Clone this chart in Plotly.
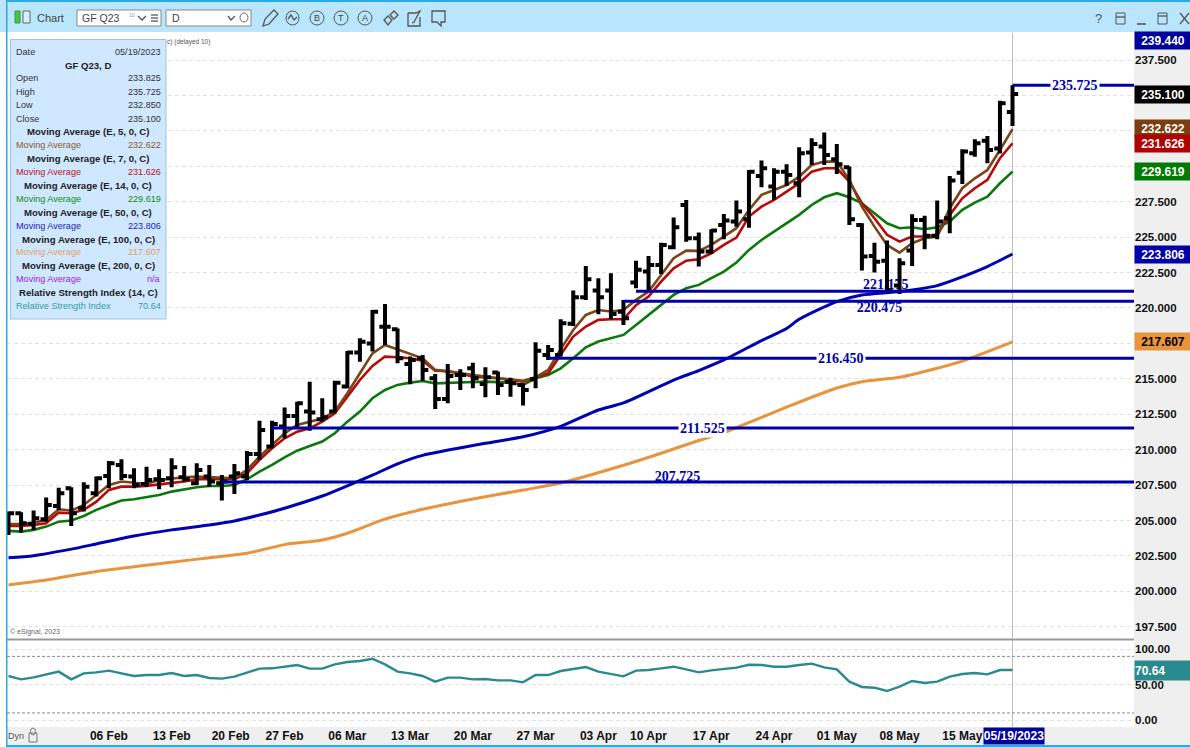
import plotly.graph_objects as go

# ---------- data ----------
bar_index = list(range(81))
open_px = [205.0,205.51,204.76,205.09,206.03,207.28,205.87,206.92,208.15,208.92,208.10,207.58,207.91,207.98,208.05,207.63,208.10,207.63,208.10,208.10,209.70,210.22,211.63,212.38,212.69,212.14,212.69,214.45,216.85,217.50,218.68,218.49,216.05,216.45,215.04,213.58,215.27,215.74,214.64,215.44,214.80,214.57,214.97,216.68,216.68,218.88,220.76,221.23,221.23,219.74,221.79,222.57,223.04,224.28,227.27,224.92,223.98,225.86,226.10,226.26,229.32,228.57,229.62,228.80,230.97,231.39,230.49,229.93,225.86,223.67,223.34,221.58,224.05,226.21,225.09,226.33,229.55,230.92,231.81,231.26,233.825]
high_px = [205.63,205.58,205.70,206.62,207.32,207.35,207.70,208.10,209.20,209.32,208.69,208.80,208.62,209.39,208.85,209.04,208.92,208.22,208.99,209.91,212.05,212.05,212.97,213.39,214.80,213.63,214.87,216.97,217.86,219.86,220.28,218.56,216.57,216.68,215.34,216.05,215.67,216.14,215.81,215.51,215.08,214.68,217.58,217.39,219.20,221.23,222.97,222.10,222.45,220.57,223.34,223.67,224.61,226.38,227.62,225.32,225.55,226.64,227.58,229.74,230.40,229.86,230.14,231.34,231.98,232.38,231.58,229.98,225.98,224.61,224.76,223.51,226.61,226.50,227.58,229.32,231.20,231.91,232.14,234.63,235.725]
low_px = [203.98,204.15,204.34,204.92,205.75,204.62,205.63,206.69,207.28,207.86,207.28,207.39,207.21,207.35,207.75,207.51,207.39,206.41,206.88,207.86,209.28,210.10,210.80,211.51,211.34,211.98,212.57,214.33,216.21,216.92,217.39,216.10,214.61,214.87,212.87,213.27,214.21,214.33,213.70,213.86,213.74,213.11,214.33,216.33,216.57,218.73,220.57,219.56,219.20,218.80,221.39,221.16,222.40,224.14,224.68,222.92,223.81,224.85,225.74,225.67,228.52,227.63,228.61,227.81,230.09,230.09,229.46,225.86,222.64,222.50,221.16,220.99,222.97,224.14,224.85,225.27,228.75,230.68,230.21,230.91,232.85]
close_px = [205.51,204.81,205.16,206.10,206.92,205.51,207.39,207.98,209.04,208.15,207.51,207.86,207.86,208.76,207.91,208.57,207.75,207.75,208.33,209.70,211.39,211.82,212.38,213.27,212.62,212.29,214.73,216.85,217.62,219.74,218.68,216.45,216.33,215.63,213.58,215.20,215.27,215.04,215.11,214.57,214.68,214.21,216.99,217.04,218.92,220.76,222.03,220.76,219.58,219.27,222.69,223.04,224.45,225.70,224.92,223.98,225.46,226.17,226.80,229.62,229.86,229.62,229.39,230.92,231.58,230.80,230.14,226.26,223.63,223.27,221.23,223.16,226.21,225.09,226.10,228.99,231.04,231.62,231.15,234.44,235.10]

ema5 = [204.76,204.76,204.85,205.04,205.79,205.70,206.10,206.80,207.51,207.75,207.68,207.58,207.86,207.98,208.05,208.10,208.05,207.98,207.98,208.57,209.51,210.33,211.15,211.74,211.98,212.20,212.69,213.98,215.39,216.80,217.39,217.08,216.80,216.45,215.63,215.51,215.39,215.23,215.15,215.04,214.97,214.87,215.11,215.63,217.10,218.45,219.51,219.86,219.75,219.86,220.57,221.16,222.33,223.51,224.05,224.03,224.45,225.04,225.63,226.92,227.98,228.33,228.68,229.27,230.09,230.33,230.33,229.04,227.15,225.74,224.45,223.91,224.57,224.92,225.04,227.04,228.45,229.15,229.74,231.15,232.622]
ema7 = [204.62,204.62,204.69,204.81,205.56,205.51,205.75,206.33,207.16,207.39,207.39,207.44,207.55,207.63,207.75,207.91,207.90,207.91,207.91,208.33,209.28,210.10,210.80,211.27,211.51,211.98,212.57,213.74,214.92,215.91,216.57,216.52,216.45,216.28,215.58,215.55,215.39,215.15,215.11,215.04,214.92,214.80,215.11,215.39,216.70,217.98,218.69,219.16,219.20,219.20,220.20,220.80,221.86,222.80,223.34,223.44,223.86,224.45,224.97,226.45,227.15,227.62,228.21,228.80,229.62,229.86,229.86,228.92,227.39,226.33,225.16,224.68,225.04,225.04,225.16,226.57,227.74,228.45,229.04,230.57,231.626]
ema14 = [204.27,204.22,204.34,204.57,204.92,205.00,205.32,205.75,206.10,206.41,206.50,206.64,206.80,207.04,207.21,207.35,207.44,207.44,207.51,207.91,208.45,208.92,209.46,209.93,210.26,210.57,211.16,211.98,212.69,213.63,214.21,214.57,214.73,214.85,214.68,214.73,214.75,214.78,214.80,214.75,214.73,214.57,215.04,215.27,215.74,216.45,217.23,217.63,217.86,218.10,218.80,219.51,220.20,220.92,221.39,221.63,222.10,222.57,223.20,224.10,224.80,225.39,225.93,226.57,227.27,227.81,228.10,227.81,227.39,226.68,225.98,225.63,225.70,225.56,225.70,226.10,226.92,227.44,227.86,228.80,229.619]
ema50_index = [0,2,5,7,10,13,16,18,20,22,25,27,29,31,33,38,41,44,47,49,53,55,57,60,62,63,66,68,71,74,76,78,80]
ema50 = [202.38,202.52,202.98,203.35,203.91,204.34,204.69,204.97,205.39,205.87,206.73,207.45,208.20,209.00,209.60,210.45,210.91,211.65,212.80,213.30,214.91,215.58,216.33,217.70,218.55,219.20,220.45,220.92,221.16,221.58,222.20,222.92,223.806]
ema100_index = [0,3,7,13,16,19,22,25,27,30,33,37,41,44,49,52,55,57,58,62,66,68,71,74,76,80]
ema100 = [200.45,200.80,201.40,202.05,202.38,202.69,203.30,203.63,204.10,205.10,205.79,206.52,207.15,207.65,208.90,209.75,210.65,211.20,211.55,213.00,214.35,214.80,215.11,215.75,216.25,217.607]
rsi14 = [62.2,57.5,60.3,64.6,68.4,57.5,66.0,67.4,69.8,66.0,62.2,63.6,63.6,66.5,62.2,63.6,59.4,58.5,61.3,66.9,72.6,73.1,75.4,77.8,72.6,72.6,78.7,82.0,83.4,86.7,78.7,68.4,66.0,62.2,54.2,59.9,59.9,57.5,58.0,56.1,56.1,53.3,63.6,63.6,69.3,72.6,74.9,68.4,64.6,61.8,69.8,70.7,73.1,75.4,71.7,67.4,70.2,71.7,74.0,78.2,77.8,75.4,75.4,77.8,79.7,74.5,71.7,54.2,46.7,45.7,41.0,47.1,55.2,52.3,54.2,61.3,65.1,66.5,64.6,70.7,70.64]

level_values = [235.725,221.175,220.475,216.450,211.525,207.725]
level_start = [80,50,49,43,21,17]
level_label = ["235.725","221.175","220.475","216.450","211.525","207.725"]
level_label_index = [85.0,69.9,69.4,66.3,55.3,53.3]
level_label_price = [235.725,221.62,219.93,216.45,211.525,208.07]
level_label_boxed = [True,False,False,True,True,False]

tick_index = [8,13,17.7,22,27,32,37,42,47,51,56,61,66,71,76]
tick_label = ["06 Feb","13 Feb","20 Feb","27 Feb","06 Mar","13 Mar","20 Mar","27 Mar","03 Apr","10 Apr","17 Apr","24 Apr","01 May","08 May","15 May"]
price_ticks = [197.5+2.5*k for k in range(17)]
covered_price_ticks = [217.5,230.0,232.5,235.0]
rsi_ticks = [0,50,100]

badge_value = [239.44,235.10,232.622,231.626,229.619,223.806,217.607]
badge_fill = ["#00009C","#000000","#7A3E10","#B00000","#007A00","#0000AA","#E8943C"]
badge_font = ["white","white","white","white","white","white","black"]
badge_shift = [-8,0,1,0,0,0,0]

info_rows = [
    ("Date","05/19/2023","#333333",False),("GF Q23, D",None,"#222222",True),
    ("Open","233.825","#333333",False),("High","235.725","#333333",False),
    ("Low","232.850","#333333",False),("Close","235.100","#333333",False),
    ("Moving Average (E, 5, 0, C)",None,"#222222",True),("Moving Average","232.622","#8A5A30",False),
    ("Moving Average (E, 7, 0, C)",None,"#222222",True),("Moving Average","231.626","#C01020",False),
    ("Moving Average (E, 14, 0, C)",None,"#222222",True),("Moving Average","229.619","#108A10",False),
    ("Moving Average (E, 50, 0, C)",None,"#222222",True),("Moving Average","223.806","#2020C8",False),
    ("Moving Average (E, 100, 0, C)",None,"#222222",True),("Moving Average","217.607","#E8A060",False),
    ("Moving Average (E, 200, 0, C)",None,"#222222",True),("Moving Average","n/a","#A020E0",False),
    ("Relative Strength Index (14, C)",None,"#222222",True),("Relative Strength Index","70.64","#3A9AA0",False),
]

# ---------- helpers (window pixels to paper fractions) ----------
W, H = 1190, 747
FONT = "Liberation Sans"
fx = lambda x: x / W
fy = lambda y: 1 - y / H
shapes, notes = [], []

def box(x0, y0, x1, y1, fill=None, line=None, lw=1, layer="below", kind="rect"):
    shapes.append(dict(type=kind, xref="paper", yref="paper", x0=fx(x0), x1=fx(x1), y0=fy(y1), y1=fy(y0),
                       fillcolor=fill, line=dict(color=line, width=lw if line else 0), layer=layer))

def poly(pts, line="#555555", lw=1.3, closed=False, fill=None):
    p = "M" + " L".join(f"{fx(a):.5f},{fy(b):.5f}" for a, b in pts) + (" Z" if closed else "")
    shapes.append(dict(type="path", xref="paper", yref="paper", path=p, fillcolor=fill,
                       line=dict(color=line, width=lw), layer="above"))

def text(x, y, s, size=11, color="#333333", bold=False, anchor="left", family=FONT):
    notes.append(dict(xref="paper", yref="paper", x=fx(x), y=fy(y), text=s, showarrow=False, xanchor=anchor,
                      yanchor="middle", font=dict(family=family, size=size, color=color, weight=700 if bold else 400),
                      borderpad=0, borderwidth=0))

# ---------- window chrome ----------
box(0, 0, W, 32, fill="#B9E6FC")
box(6, 0, W, 2, fill="#29ABE2")
box(6, 0, 7.5, 747, fill="#29ABE2", layer="above")
box(1134, 32, W, 745, fill="#EFEFEF")
box(7, 727, W, 745, fill="#EFEFEF")
box(6, 745, W, 747, fill="#29ABE2")

box(15, 11, 20, 23, fill="#4CC04C", line="#3A9A3A", kind="rect", layer="above")
box(23, 11, 30, 23, fill="#D6F0FC", line="#666666", layer="above")
text(37, 18, "Chart", size=11, color="#444444")
box(77, 10, 161, 26, fill="white", line="#888888", layer="above")
text(82, 18, "GF Q23", size=10.5, color="#444444")
text(129, 15, "10", size=5, color="#55AAEE")
poly([(138, 16), (142, 20), (146, 16)])
poly([(151, 15), (158, 15)]); poly([(151, 18), (158, 18)]); poly([(151, 21), (158, 21)])
box(166, 10, 251, 26, fill="white", line="#888888", layer="above")
text(172, 18, "D", size=10.5, color="#444444")
poly([(228, 16), (231, 20), (235, 16)])
box(240, 13, 248, 22, line="#666666", kind="circle", layer="above")

poly([(263, 26), (265, 19), (274, 10), (278, 14), (269, 24)], closed=True)
box(286, 11, 299, 25, line="#555555", kind="circle", layer="above")
poly([(288, 19), (291, 15), (294, 20), (297, 17)])
for cx, s in zip([317, 341, 365], ["B", "T", "A"]):
    box(cx - 7, 11, cx + 7, 25, line="#555555", kind="circle", layer="above")
    text(cx, 18, s, size=9, color="#444444", anchor="center")
poly([(384, 20), (388, 16), (392, 20), (388, 25)], closed=True)
poly([(390, 15), (394, 11), (398, 15), (394, 19)], closed=True)
poly([(408, 13), (416, 13), (420, 11), (414, 22), (412, 23)])
poly([(408, 13), (408, 26), (420, 26), (420, 17)])
poly([(432, 11), (445, 11), (445, 22), (441, 22), (441, 26), (437, 22), (432, 22)], closed=True)

text(1098, 19, "?", size=13, color="#555555", anchor="center")
box(1116, 13, 1125, 24, line="#555555", layer="above")
poly([(1116, 17), (1125, 17)])
poly([(1137, 24), (1146, 24)], lw=1.6)
box(1158, 13, 1167, 24, line="#555555", layer="above")
poly([(1158, 16), (1167, 16)])
poly([(1180, 13), (1189, 24)]); poly([(1189, 13), (1180, 24)])

text(167, 42, "c) (delayed 10)", size=6.5, color="#555555")
text(10, 632, "© eSignal, 2023", size=7, color="#666666")
text(8, 736, "Dyn", size=9, color="#555555")
box(29, 733, 37, 742, line="#777777", layer="above")
box(30.5, 728, 35.5, 735, line="#777777", kind="circle", layer="above")

# ---------- info panel ----------
box(10.5, 39.5, 166, 319, fill="#CFE8FF", line="#9CC4E0", layer="above")
for k, (left, right, colour, bold) in enumerate(info_rows):
    y = 51.7 + 13.38 * k
    if right is None:
        text(88, y, left, size=9.6, color=colour, bold=True, anchor="center")
    else:
        text(16, y, left, size=9.1, color=colour)
        text(160.5, y, right, size=9.1, color=colour, anchor="right")

# ---------- panes ----------
PY = lambda px: 237.5 - (px - 60) / 14.17
price_range = [PY(639), PY(32)]
rsi_range = [(720 - 727) / 0.707, (720 - 640) / 0.707]
x_range = [(7 - 8.5) / 12.55, (1134 - 8.5) / 12.55]
GRID = "#E2E2E2"
DASH = "4px,3px"

fig = go.Figure()

# moving averages sit below the price bars
fig.add_trace(go.Scatter(x=ema100_index, y=ema100, mode="lines", line=dict(color="#E8943C", width=3, shape="spline", smoothing=0.7)))
fig.add_trace(go.Scatter(x=ema50_index, y=ema50, mode="lines", line=dict(color="#0000B4", width=3, shape="spline", smoothing=0.7)))
fig.add_trace(go.Scatter(x=bar_index, y=ema14, mode="lines", line=dict(color="#0A780A", width=2.6)))
fig.add_trace(go.Scatter(x=bar_index, y=ema7, mode="lines", line=dict(color="#B80808", width=2.6)))
fig.add_trace(go.Scatter(x=bar_index, y=ema5, mode="lines", line=dict(color="#7A4518", width=2.6)))

# two level labels lie behind the bars
for k in range(len(level_values)):
    if not level_label_boxed[k]:
        fig.add_trace(go.Scatter(x=[level_label_index[k]], y=[level_label_price[k]], mode="text",
                                 text=[level_label[k]], textposition="middle center",
                                 textfont=dict(family="Liberation Serif", size=14, color="#0000AA", weight=700)))

fig.add_trace(go.Ohlc(x=bar_index, open=open_px, high=high_px, low=low_px, close=close_px, yaxis="y3", xaxis="x",
                      tickwidth=0.45, increasing=dict(line=dict(color="black", width=4)),
                      decreasing=dict(line=dict(color="black", width=4))))

for k in range(len(level_values)):
    fig.add_trace(go.Scatter(x=[level_start[k], x_range[1]], y=[level_values[k]] * 2, mode="lines", yaxis="y4",
                             line=dict(color="#0000AA", width=3)))

fig.add_trace(go.Scatter(x=bar_index, y=rsi14, mode="lines", xaxis="x2", yaxis="y2",
                         line=dict(color="#2A8A8E", width=2.4)))

# level labels that interrupt their line
for k in range(len(level_values)):
    if level_label_boxed[k]:
        notes.append(dict(xref="x", yref="y", x=level_label_index[k], y=level_label_price[k], text=level_label[k],
                          showarrow=False, bgcolor="white", borderpad=1,
                          font=dict(family="Liberation Serif", size=14, color="#0000AA", weight=700)))

# value badges on the price axis
for v, f, c, s in zip(badge_value, badge_fill, badge_font, badge_shift):
    notes.append(dict(xref="paper", yref="y", x=fx(1134), y=v, xanchor="left", yanchor="middle", yshift=s,
                      text=f"{v:.3f}", showarrow=False, bgcolor=f, width=56, height=17, align="center", borderpad=0,
                      font=dict(family=FONT, size=12, color=c, weight=700)))
notes.append(dict(xref="paper", yref="y2", x=fx(1134), y=rsi14[-1], xanchor="left", yanchor="middle", text=f"{rsi14[-1]:.2f}",
                  showarrow=False, bgcolor="#2A8A8E", width=56, height=19, align="left", borderpad=0,
                  font=dict(family=FONT, size=12, color="white", weight=700)))
notes.append(dict(xref="paper", yref="paper", x=fx(983), y=fy(736), xanchor="left", yanchor="middle", text="05/19/2023",
                  showarrow=False, bgcolor="#00009C", width=60, height=16, borderpad=0,
                  font=dict(family=FONT, size=12, color="white", weight=700)))

# crosshair, pane separator and RSI guide lines
shapes.append(dict(type="line", xref="x", yref="paper", x0=80, x1=80, y0=fy(727), y1=fy(33),
                   line=dict(color="#BDBDBD", width=1), layer="below"))
shapes.append(dict(type="line", xref="paper", yref="paper", x0=fx(7), x1=fx(1134), y0=fy(639.5), y1=fy(639.5),
                   line=dict(color="#999999", width=2), layer="above"))
for lvl in (90, 10):
    shapes.append(dict(type="line", xref="x2", yref="y2", x0=x_range[0], x1=x_range[1], y0=lvl, y1=lvl,
                       line=dict(color="#888888", width=1, dash="3px,2px"), layer="below"))

price_ticktext = ["" if t in covered_price_ticks else f"{t:.3f}" for t in price_ticks]

axis_common = dict(showline=False, zeroline=False, fixedrange=True)
fig.update_layout(
    width=W, height=H, margin=dict(l=0, r=0, t=0, b=0, pad=0), autosize=False, showlegend=False,
    paper_bgcolor="white", plot_bgcolor="white", font=dict(family=FONT), annotations=notes, shapes=shapes,
    hovermode=False,
    xaxis=dict(domain=[fx(7), fx(1134)], range=x_range, anchor="y", showgrid=False, showticklabels=False,
               ticks="", rangeslider=dict(visible=False), **axis_common),
    xaxis2=dict(domain=[fx(7), fx(1134)], range=x_range, anchor="y2", showgrid=False, ticks="",
                tickmode="array", tickvals=tick_index, ticktext=tick_label,
                tickfont=dict(family=FONT, size=12, color="#111111", weight=700), **axis_common),
    yaxis=dict(domain=[fy(639), fy(32)], range=price_range, anchor="x", side="right", showgrid=True, griddash=DASH,
               gridcolor=GRID, gridwidth=1, tickmode="array", tickvals=price_ticks, ticktext=price_ticktext, ticks="",
               tickfont=dict(family=FONT, size=11.5, color="#111111", weight=700), **axis_common),
    yaxis2=dict(domain=[fy(727), fy(640)], range=rsi_range, anchor="x2", side="right", showgrid=True, griddash=DASH,
                gridcolor=GRID, gridwidth=1, tickmode="array", tickvals=rsi_ticks, tickformat=".2f", ticks="",
                tickfont=dict(family=FONT, size=11.5, color="#111111", weight=700), **axis_common),
    yaxis3=dict(overlaying="y", range=price_range, anchor="x", side="right", visible=False, **axis_common),
    yaxis4=dict(overlaying="y", range=price_range, anchor="x", side="right", visible=False, **axis_common),
)

fig.write_html("out.html", post_script="document.body.style.margin='0';", config={"displayModeBar": False})
